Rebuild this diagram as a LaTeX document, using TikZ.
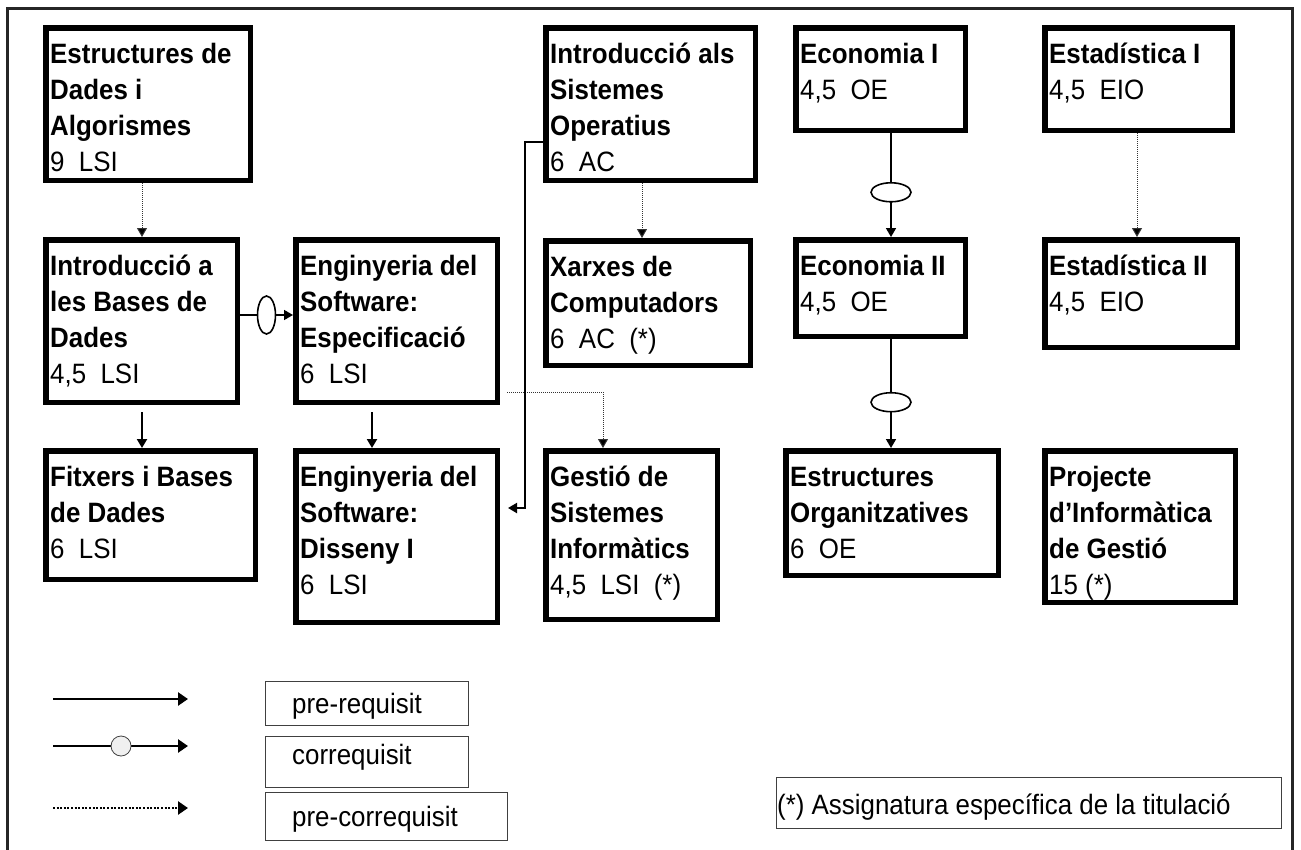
\documentclass[tikz,border=0pt]{standalone}
\usepackage{fontspec}
\setmainfont{Liberation Sans}[FakeStretch=0.925]
\usetikzlibrary{arrows.meta,shapes.geometric}
\newcommand\course[6]{%
  \node[cbox, minimum width={#4-#2-5.5}, minimum height={#5-#3-5.5}] (#1) at ({(#2+#4)/2},{(#3+#5)/2}) {};
  \node[ctxt] at ({#2+7},{#3+11}) {\rule{0pt}{27pt}#6};
}
\tikzset{
  cbox/.style={rectangle, draw=black, line width=5.5pt, outer sep=2.75pt, inner sep=0pt, fill=white},
  ctxt/.style={anchor=north west, inner sep=0pt, align=left, font=\fontsize{28}{36}\selectfont},
  pre/.style={line width=2pt, draw=black, -{Triangle[length=9pt,width=10pt]}},
  corr/.style={line width=1.6pt, draw=black, -{Triangle[length=9pt,width=10pt]}},
  precor/.style={line width=1pt, draw=black!80, dash pattern=on 1pt off 1pt, -{Triangle[length=9pt,width=10pt,fill=black]}},
  ovalv/.style={ellipse, draw=black, line width=1.6pt, fill=white, inner sep=0pt, minimum width=18pt, minimum height=38pt},
  ovalh/.style={ellipse, draw=black, line width=1.6pt, fill=white, inner sep=0pt, minimum width=40pt, minimum height=19pt},
  legpre/.style={line width=2.5pt, draw=black, -{Triangle[length=10pt,width=13pt]}},
  legdot/.style={line width=2.5pt, draw=black, dash pattern=on 2pt off 1.6pt, -{Triangle[length=10pt,width=13pt]}},
  legcirc/.style={circle, draw=black!75, line width=0.8pt, fill=gray!12, minimum size=20pt, inner sep=0pt},
  legbox/.style={rectangle, draw=black!75, line width=1pt, inner sep=0pt, outer sep=0pt, anchor=north west},
  ltxt/.style={anchor=base west, inner sep=0pt, font=\fontsize{28}{36}\selectfont},
}
\begin{document}
\begin{tikzpicture}[x=1pt,y=-1pt]
\clip (0,0) rectangle (1301,849);
\fill[white] (0,0) rectangle (1301,849);
\draw[line width=3pt, black!85] (7,8) rectangle (1292,880);

% courses
\course{eda}{43}{25}{253}{183}{\textbf{Estructures de}\\\textbf{Dades i}\\\textbf{Algorismes}\\9\ \ LSI}
\course{ibd}{43}{237}{240}{405}{\textbf{Introducció a}\\\textbf{les Bases de}\\\textbf{Dades}\\4,5\ \ LSI}
\course{ese}{293}{237}{500}{405}{\textbf{Enginyeria del}\\\textbf{Software:}\\\textbf{Especificació}\\6\ \ LSI}
\course{fit}{43}{448}{258}{582}{\textbf{Fitxers i Bases}\\\textbf{de Dades}\\6\ \ LSI}
\course{dis}{293}{448}{500}{625}{\textbf{Enginyeria del}\\\textbf{Software:}\\\textbf{Disseny I}\\6\ \ LSI}
\course{iso}{543}{25}{758}{183}{\textbf{Introducció als}\\\textbf{Sistemes}\\\textbf{Operatius}\\6\ \ AC}
\course{xar}{543}{238}{753}{368}{\textbf{Xarxes de}\\\textbf{Computadors}\\6\ \ AC\ \ (*)}
\course{ges}{543}{448}{720}{622}{\textbf{Gestió de}\\\textbf{Sistemes}\\\textbf{Informàtics}\\4,5\ \ LSI\ \ (*)}
\course{ecoa}{793}{25}{968}{133}{\textbf{Economia I}\\4,5\ \ OE}
\course{ecob}{793}{237}{968}{339}{\textbf{Economia II}\\4,5\ \ OE}
\course{eo}{783}{448}{1001}{578}{\textbf{Estructures}\\\textbf{Organitzatives}\\6\ \ OE}
\course{esta}{1042}{25}{1235}{133}{\textbf{Estadística I}\\4,5\ \ EIO}
\course{estb}{1042}{237}{1240}{350}{\textbf{Estadística II}\\4,5\ \ EIO}
\course{proj}{1042}{448}{1238}{605}{\textbf{Projecte}\\\textbf{d’Informàtica}\\\textbf{de Gestió}\\15 (*)}

% helper coordinates
\coordinate (x142) at (142,0);
\coordinate (x372) at (372,0);
\coordinate (x525) at (525,0);
\coordinate (x603) at (603,0);
\coordinate (x642) at (642,0);
\coordinate (x891) at (891,0);
\coordinate (x1137) at (1137,0);
\coordinate (y142) at (0,142);
\coordinate (y315) at (0,315);
\coordinate (y392) at (0,392);
\coordinate (y508) at (0,508);

% connectors
\draw[precor] (eda.south -| x142) -- (ibd.north -| x142);
\draw[corr] (ibd.east |- y315) -- node[ovalv]{} (ese.west |- y315);
\draw[pre, shorten <=7pt] (ibd.south -| x142) -- (fit.north -| x142);
\draw[pre, shorten <=7pt] (ese.south -| x372) -- (dis.north -| x372);
\draw[precor, shorten <=7pt] (ese.east |- y392) -| (ges.north -| x603);
\draw[pre, shorten >=8pt] (iso.west |- y142) -| (x525 |- y508) -- (dis.east |- y508);
\draw[precor] (iso.south -| x642) -- (xar.north -| x642);
\draw[corr] (ecoa.south -| x891) -- node[pos=0.57, ovalh]{} (ecob.north -| x891);
\draw[corr] (ecob.south -| x891) -- node[pos=0.58, ovalh]{} (eo.north -| x891);
\draw[precor] (esta.south -| x1137) -- (estb.north -| x1137);

% legend
\coordinate (la1) at (53,699);
\coordinate (la2) at (188,699);
\coordinate (lb1) at (53,746);
\coordinate (lb2) at (188,746);
\coordinate (lc1) at (53,808);
\coordinate (lc2) at (188,808);
\draw[legpre] (la1) -- (la2);
\draw[legpre] (lb1) -- node[pos=0.504, legcirc]{} (lb2);
\draw[legdot] (lc1) -- (lc2);

\node[legbox, minimum width=203pt, minimum height=44pt] (lgA) at (265,681) {};
\node[legbox, minimum width=203pt, minimum height=51pt] (lgB) at (265,736) {};
\node[legbox, minimum width=242pt, minimum height=48pt] (lgC) at (265,792) {};
\node[ltxt] (tA) at (292,713) {pre-requisit};
\node[ltxt] (tB) at (292,764) {correquisit};
\node[ltxt] (tC) at (292,826) {pre-correquisit};

\node[legbox, minimum width=505pt, minimum height=51pt] (foot) at (776,777) {};
\node[ltxt] (tF) at (777,814) {(*) Assignatura específica de la titulació};
\end{tikzpicture}
\end{document}
